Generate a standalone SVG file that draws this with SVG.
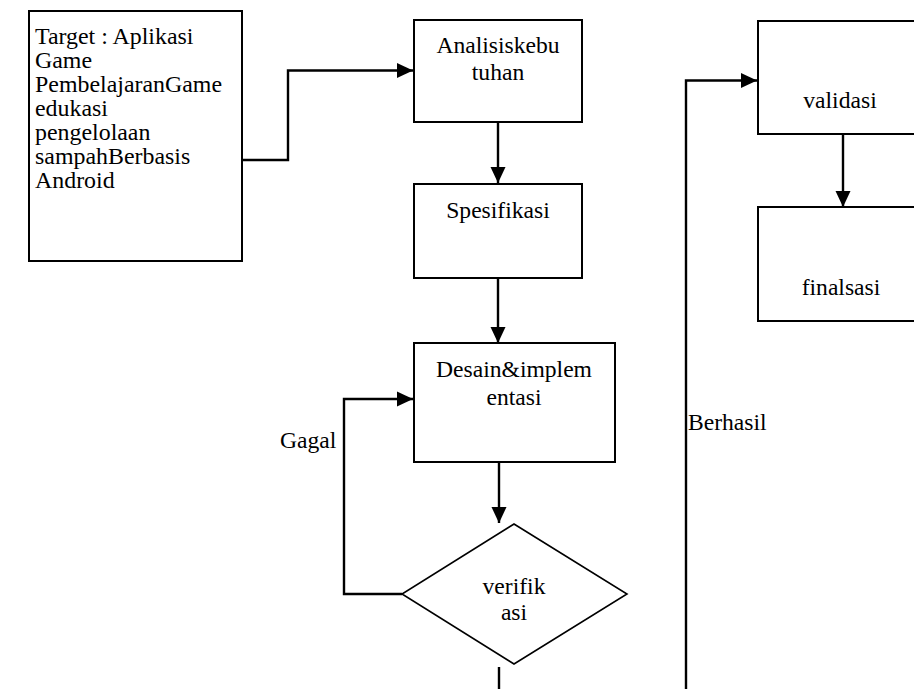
<svg xmlns="http://www.w3.org/2000/svg" width="914" height="689" viewBox="0 0 914 689">
<style>
.box{fill:#fff;stroke:#000;stroke-width:2}
.t{font-family:"Liberation Serif","Times New Roman",serif;font-size:23.6px;fill:#000}
.tb{font-size:23.9px}
.c{text-anchor:middle}
.ln{fill:none;stroke:#000;stroke-width:2.4}
</style>
<defs>
<marker id="ah" markerUnits="userSpaceOnUse" markerWidth="16" markerHeight="16" viewBox="0 0 16 16" refX="16" refY="8" orient="auto">
<path d="M0,0.5 L16,8 L0,15.5 Z" fill="#000"/>
</marker>
</defs>
<rect width="914" height="689" fill="#fff"/>
<g id="target">
<rect class="box" x="29" y="11" width="213" height="250"/>
<text class="t tb" x="35" y="44">Target : Aplikasi</text>
<text class="t tb" x="35" y="68">Game</text>
<text class="t tb" x="35" y="92">PembelajaranGame</text>
<text class="t tb" x="35" y="116">edukasi</text>
<text class="t tb" x="35" y="140">pengelolaan</text>
<text class="t tb" x="35" y="164">sampahBerbasis</text>
<text class="t tb" x="35" y="188">Android</text>
</g>
<g id="analisis">
<rect class="box" x="414" y="20" width="168" height="102"/>
<text class="t c" x="498" y="53">Analisiskebu</text>
<text class="t c" x="498" y="80">tuhan</text>
</g>
<g id="spesifikasi">
<rect class="box" x="414" y="184" width="168" height="94"/>
<text class="t c" x="498" y="218">Spesifikasi</text>
</g>
<g id="desain">
<rect class="box" x="414" y="343" width="201" height="119"/>
<text class="t c" x="514" y="377">Desain&amp;implem</text>
<text class="t c" x="514" y="405">entasi</text>
</g>
<g id="verifikasi">
<polygon class="box" points="514,524 627,594 514,664 402,594" style="stroke-width:1.6"/>
<text class="t c" x="514" y="594">verifik</text>
<text class="t c" x="514" y="620">asi</text>
</g>
<g id="validasi">
<rect class="box" x="758" y="21" width="170" height="113"/>
<text class="t c" x="840" y="108">validasi</text>
</g>
<g id="finalsasi">
<rect class="box" x="758" y="207" width="170" height="114"/>
<text class="t c" x="841" y="295">finalsasi</text>
</g>
<g id="connectors">
<path class="ln" d="M242,160 H288 V70.5 H413" marker-end="url(#ah)"/>
<path class="ln" d="M498,122 V183" marker-end="url(#ah)"/>
<path class="ln" d="M498,278 V343" marker-end="url(#ah)"/>
<path class="ln" d="M499,462 V523" marker-end="url(#ah)"/>
<path class="ln" d="M402,594 H344 V399 H413" marker-end="url(#ah)"/>
<path class="ln" d="M499,667 V689"/>
<path class="ln" d="M686,689 V80.5 H757" marker-end="url(#ah)"/>
<path class="ln" d="M843,134 V207" marker-end="url(#ah)"/>
</g>
<g id="labels">
<text class="t" x="280" y="448">Gagal</text>
<text class="t" x="688" y="430">Berhasil</text>
</g>
</svg>
